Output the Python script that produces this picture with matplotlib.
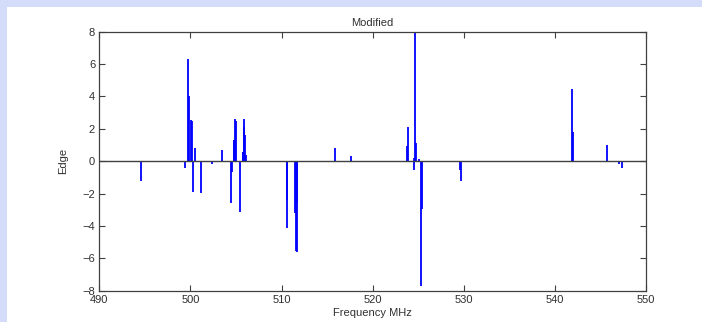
import matplotlib
matplotlib.use("Agg")
import matplotlib.pyplot as plt
from matplotlib.patches import Rectangle

freq = [494.54, 499.44, 499.70, 499.81, 500.07, 500.12, 500.25, 500.50, 501.20,
        502.34, 502.92, 503.50, 504.42, 504.53, 504.73, 504.78, 504.86, 505.01,
        505.44, 505.72, 505.78, 505.85, 505.92, 506.03, 506.14,
        510.57, 510.64, 511.43, 511.55, 511.65, 511.75,
        515.84, 517.66, 523.74, 523.85, 524.52, 524.58, 524.69, 524.80, 525.13,
        525.28, 525.39, 529.56, 529.67, 541.86, 541.97, 545.76, 547.01, 547.41]
edge = [-1.25, -0.42, 6.33, 4.04, 2.52, 2.5, -1.93, 0.81, -1.96,
        -0.18, -0.08, 0.71, -2.58, -0.69, 1.28, 1.3, 2.6, 2.5,
        -3.16, 0.57, 0.57, 2.09, 2.6, 1.64, 0.4,
        -4.15, -2.4, -3.2, -5.57, -5.6, -2.58,
        0.81, 0.3, 0.92, 2.14, 0.22, -0.52, 8.0, 1.13, 0.12,
        -7.72, -2.95, -0.57, -1.24, 4.47, 1.78, 1.02, -0.15, -0.44]

xticks = [490, 500, 510, 520, 530, 540, 550]
yticks = [-8, -6, -4, -2, 0, 2, 4, 6, 8]

fig = plt.figure(figsize=(7.02, 3.22), dpi=100)
fig.patch.set_facecolor("#D3DDF9")
fig.patches.append(Rectangle((7/702, 0), 1, (322-7)/322, transform=fig.transFigure,
                             facecolor="white", edgecolor="none", zorder=-10))

ax = fig.add_axes([99.3/702, 31.3/322, 546.7/702, 259/322])
ax.set_zorder(5)
ax.set_facecolor("white")
ax.vlines(freq, 0, edge, colors="#0000FF", linewidth=1.3)
ax.axhline(0, color="#404040", linewidth=1.0, zorder=3)
ax.set_xlim(490, 550)
ax.set_ylim(-8, 8)
ax.set_xticks(xticks)
ax.set_yticks(yticks)
txtc = "#303030"
ax.tick_params(direction="in", top=True, right=True, length=4, width=0.8,
               color="#404040", labelsize=8, labelcolor=txtc, pad=3)
for s in ax.spines.values():
    s.set_color("#404040")
    s.set_linewidth(0.9)
for lab in ax.get_xticklabels() + ax.get_yticklabels():
    lab.set_family("Liberation Sans")
ax.set_title("Modified", fontsize=8, color=txtc, family="Liberation Sans", pad=4)
ax.set_xlabel("Frequency MHz", fontsize=8, color=txtc, family="Liberation Sans", labelpad=2)
ax.set_ylabel("Edge", fontsize=8, color=txtc, family="Liberation Sans", labelpad=10)

fig.savefig("out.png", dpi=100, facecolor=fig.get_facecolor())
